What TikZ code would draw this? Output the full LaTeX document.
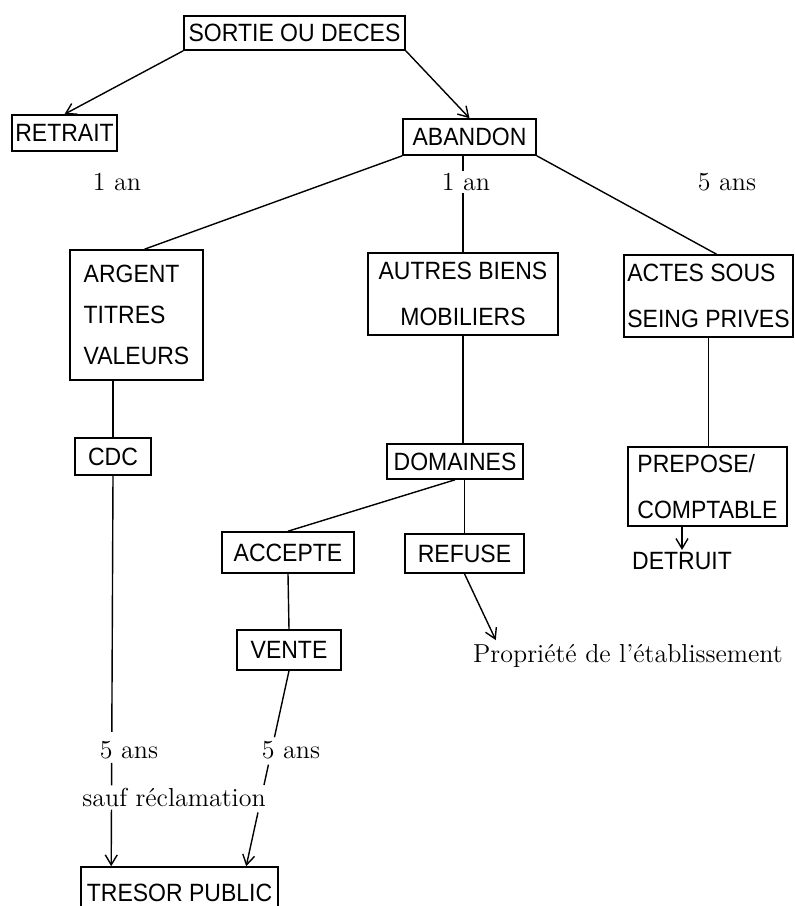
\documentclass[tikz,border=0pt]{standalone}
\usepackage{fontspec}
\newfontfamily\boitefont[FakeStretch=0.92]{Liberation Sans}
\usepackage{tikz}
\usetikzlibrary{arrows.meta,positioning,calc}

\tikzset{
    boite/.style={draw, line width=0.8pt, inner sep=0pt, font=\boitefont\fontsize{12.5}{14}\selectfont},
    note/.style={inner sep=1pt, font=\fontsize{13}{15}\selectfont},
    lien/.style={line width=0.7pt},
    fleche/.style={line width=0.7pt, -{Straight Barb[length=5pt,width=6pt]}}
}

\begin{document}
\begin{tikzpicture}[x=0.5pt, y=-0.5pt]
    \useasboundingbox (0,0) rectangle (795,906);
    % boxes
    \node[boite, minimum width=110.5pt, minimum height=17pt] (sortie) at (294.5,33) {SORTIE OU DECES};
    \node[boite, minimum width=52.5pt, minimum height=18pt] (retrait) at (64.5,133) {RETRAIT};
    \node[boite, minimum width=66.5pt, minimum height=18pt] (abandon) at (469.5,137) {ABANDON};
    \node[boite, minimum width=66.5pt, minimum height=65pt, align=left] (argent) at (136.5,315) {ARGENT\\[6.5pt]TITRES\\[6.5pt]VALEURS};
    \node[boite, minimum width=95pt, minimum height=41pt, align=center] (autres) at (463,294) {AUTRES BIENS\\[9pt]MOBILIERS};
    \node[boite, minimum width=84.5pt, minimum height=41pt, align=left] (actes) at (708.5,296) {ACTES SOUS\\[9pt]SEING PRIVES};
    \node[boite, minimum width=38pt, minimum height=18.5pt] (cdc) at (113,456.5) {CDC};
    \node[boite, minimum width=68pt, minimum height=17.5pt] (domaines) at (455,461.5) {DOMAINES};
    \node[boite, minimum width=79.5pt, minimum height=39.5pt, align=left] (prepose) at (707.5,486.5) {PREPOSE/\\[9pt]COMPTABLE};
    \node[boite, minimum width=66pt, minimum height=20.5pt] (accepte) at (288,552.5) {ACCEPTE};
    \node[boite, minimum width=59.5pt, minimum height=19.5pt] (refuse) at (464.5,553.5) {REFUSE};
    \node[boite, minimum width=52pt, minimum height=20pt] (vente) at (289,650) {VENTE};
    \node[boite, minimum width=98.5pt, minimum height=25.5pt] (tresor) at (179.5,892.5) {TRESOR PUBLIC};
    \node[inner sep=1pt, font=\boitefont\fontsize{12.5}{14}\selectfont] (detruit) at (682,561) {DETRUIT};
    % labels
    \node[note] (an1) at (117,182) {1 an};
    \node[note] (an2) at (466,182) {1 an};
    \node[note] (ans1) at (727,182) {5 ans};
    \node[note] (ans2) at (129,750) {5 ans};
    \node[note] (ans3) at (291,750) {5 ans};
    \node[note] (sauf) at (174,797) {sauf réclamation};
    \node[note] (prop) at (628,656) {Propriété de l'établissement};
    % end points
    \coordinate (t1) at ($(tresor.north west)+(31,0)$);
    \coordinate (t2) at ($(tresor.north west)+(166,0)$);
    \coordinate (p1) at ($(prop.north west)+(25,-2)$);

    % links
    \draw[fleche] (sortie.south west) -- (retrait.north);
    \draw[fleche] (sortie.south east) -- (abandon.north);
    \draw[lien] (abandon.south west) -- ($(argent.north)+(8,0)$);
    \draw[lien] (abandon.south -| autres.north) -- (an2.north -| autres.north);
    \draw[lien] (an2.south -| autres.north) -- (autres.north);
    \draw[lien] (abandon.south east) -- ($(actes.north)+(8,0)$);
    \draw[lien] (argent.south -| cdc.north) -- (cdc.north);
    \draw[lien] (autres.south) -- (domaines.north -| autres.south);
    \draw[lien] (actes.south) -- (prepose.north -| actes.south);
    \draw[fleche] (prepose.south -| detruit.north) -- (detruit.north);
    \draw[lien] (domaines.south) -- (accepte.north);
    \draw[lien] (domaines.south -| refuse.north) -- (refuse.north);
    \draw[fleche] (refuse.south) -- (p1);
    \draw[lien] (accepte.south) -- (vente.north);
    % towards the tresor, broken by the labels
    \draw[lien] (cdc.south) -- ($(cdc.south)!0.656!(t1)$);
    \draw[lien] ($(cdc.south)!0.735!(t1)$) -- ($(cdc.south)!0.793!(t1)$);
    \draw[fleche] ($(cdc.south)!0.855!(t1)$) -- (t1);
    \draw[lien] (vente.south) -- ($(vente.south)!0.34!(t2)$);
    \draw[lien] ($(vente.south)!0.48!(t2)$) -- ($(vente.south)!0.584!(t2)$);
    \draw[fleche] ($(vente.south)!0.725!(t2)$) -- (t2);
\end{tikzpicture}
\end{document}
